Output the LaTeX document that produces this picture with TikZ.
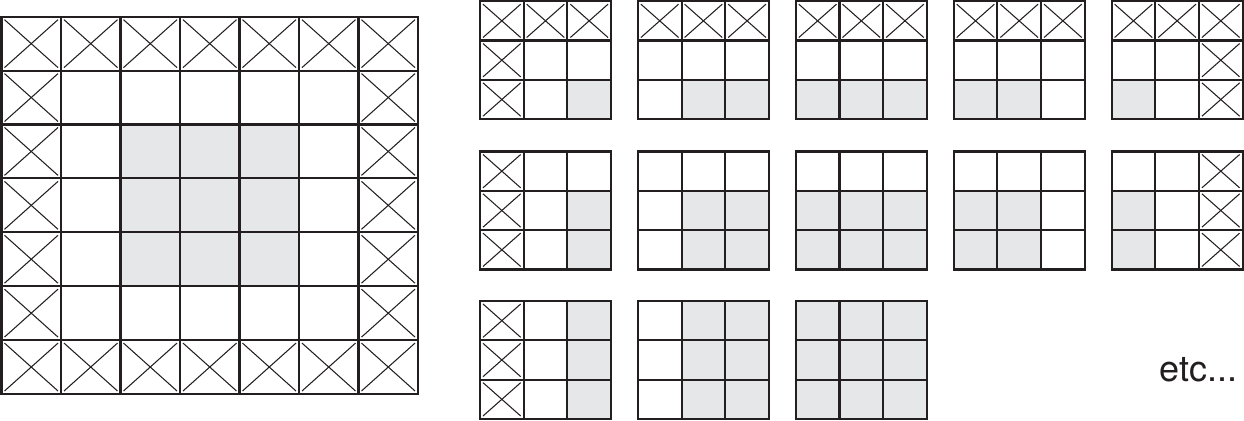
\documentclass[tikz,border=0pt]{standalone}
\usepackage{fontspec}
\setmainfont{TeX Gyre Heros}
\usepackage{xcolor}

\definecolor{cellgray}{RGB}{230,231,232}
\definecolor{lineblack}{RGB}{35,31,32}

% small 3x3 grid: x, y, crossed cells, grey cells (column/row)
\newcommand{\minigrid}[4]{%
  \begin{scope}[shift={(#1,#2)}]
    \foreach \c/\r in {#4} \fill[cellgray] (\c*\mw,\r*\mh) rectangle ++(\mw,\mh);
    \foreach \c/\r in {#3} {
      \draw[cross] (\c*\mw+3,\r*\mh+3) -- (\c*\mw+\mw-3,\r*\mh+\mh-3);
      \draw[cross] (\c*\mw+\mw-3,\r*\mh+3) -- (\c*\mw+3,\r*\mh+\mh-3);
    }
    \foreach \i in {1,2} {
      \draw[gridline] (\i*\mw,0) -- (\i*\mw,3*\mh);
      \draw[gridline] (0,\i*\mh) -- (3*\mw,\i*\mh);
    }
    \draw[gridline] (0,0) rectangle (3*\mw,3*\mh);
  \end{scope}}

\begin{document}
\begin{tikzpicture}[x=0.02cm, y=-0.02cm,
    cross/.style={draw=lineblack, line width=0.6pt},
    gridline/.style={draw=lineblack, line width=1.2pt},
    etcnote/.style={font=\fontsize{20.5}{24}\selectfont, inner sep=0pt, text=lineblack}]

\useasboundingbox (0,0) rectangle (1244,421);

\def\bw{59.5}
\def\bh{53.9}
\def\mw{43.67}
\def\mh{39.33}

% big grid
\begin{scope}[shift={(1.5,16.7)}]
  \foreach \c in {2,3,4}
    \foreach \r in {2,3,4}
      \fill[cellgray] (\c*\bw,\r*\bh) rectangle ++(\bw,\bh);
  \foreach \c/\r in {0/0,1/0,2/0,3/0,4/0,5/0,6/0,0/6,1/6,2/6,3/6,4/6,5/6,6/6,
                     0/1,0/2,0/3,0/4,0/5,6/1,6/2,6/3,6/4,6/5} {
    \draw[cross] (\c*\bw+3,\r*\bh+3) -- (\c*\bw+\bw-3,\r*\bh+\bh-3);
    \draw[cross] (\c*\bw+\bw-3,\r*\bh+3) -- (\c*\bw+3,\r*\bh+\bh-3);
  }
  \foreach \i in {1,...,6} {
    \draw[gridline] (\i*\bw,0) -- (\i*\bw,7*\bh);
    \draw[gridline] (0,\i*\bh) -- (7*\bw,\i*\bh);
  }
  \draw[gridline] (0,0) rectangle (7*\bw,7*\bh);
\end{scope}

% first row
\minigrid{480}{1.2}{0/0,1/0,2/0,0/1,0/2}{2/2}
\minigrid{637.9}{1.2}{0/0,1/0,2/0}{1/2,2/2}
\minigrid{795.8}{1.2}{0/0,1/0,2/0}{0/2,1/2,2/2}
\minigrid{953.7}{1.2}{0/0,1/0,2/0}{0/2,1/2}
\minigrid{1111.6}{1.2}{0/0,1/0,2/0,2/1,2/2}{0/2}

% second row
\minigrid{480}{151.5}{0/0,0/1,0/2}{2/1,2/2}
\minigrid{637.9}{151.5}{}{1/1,2/1,1/2,2/2}
\minigrid{795.8}{151.5}{}{0/1,1/1,2/1,0/2,1/2,2/2}
\minigrid{953.7}{151.5}{}{0/1,1/1,0/2,1/2}
\minigrid{1111.6}{151.5}{2/0,2/1,2/2}{0/1,0/2}

% third row
\minigrid{480}{301}{0/0,0/1,0/2}{2/0,2/1,2/2}
\minigrid{637.9}{301}{}{1/0,2/0,1/1,2/1,1/2,2/2}
\minigrid{795.8}{301}{}{0/0,1/0,2/0,0/1,1/1,2/1,0/2,1/2,2/2}

\node[etcnote, anchor=base west] (etc) at (1159,381.7) {etc...};
\end{tikzpicture}
\end{document}
